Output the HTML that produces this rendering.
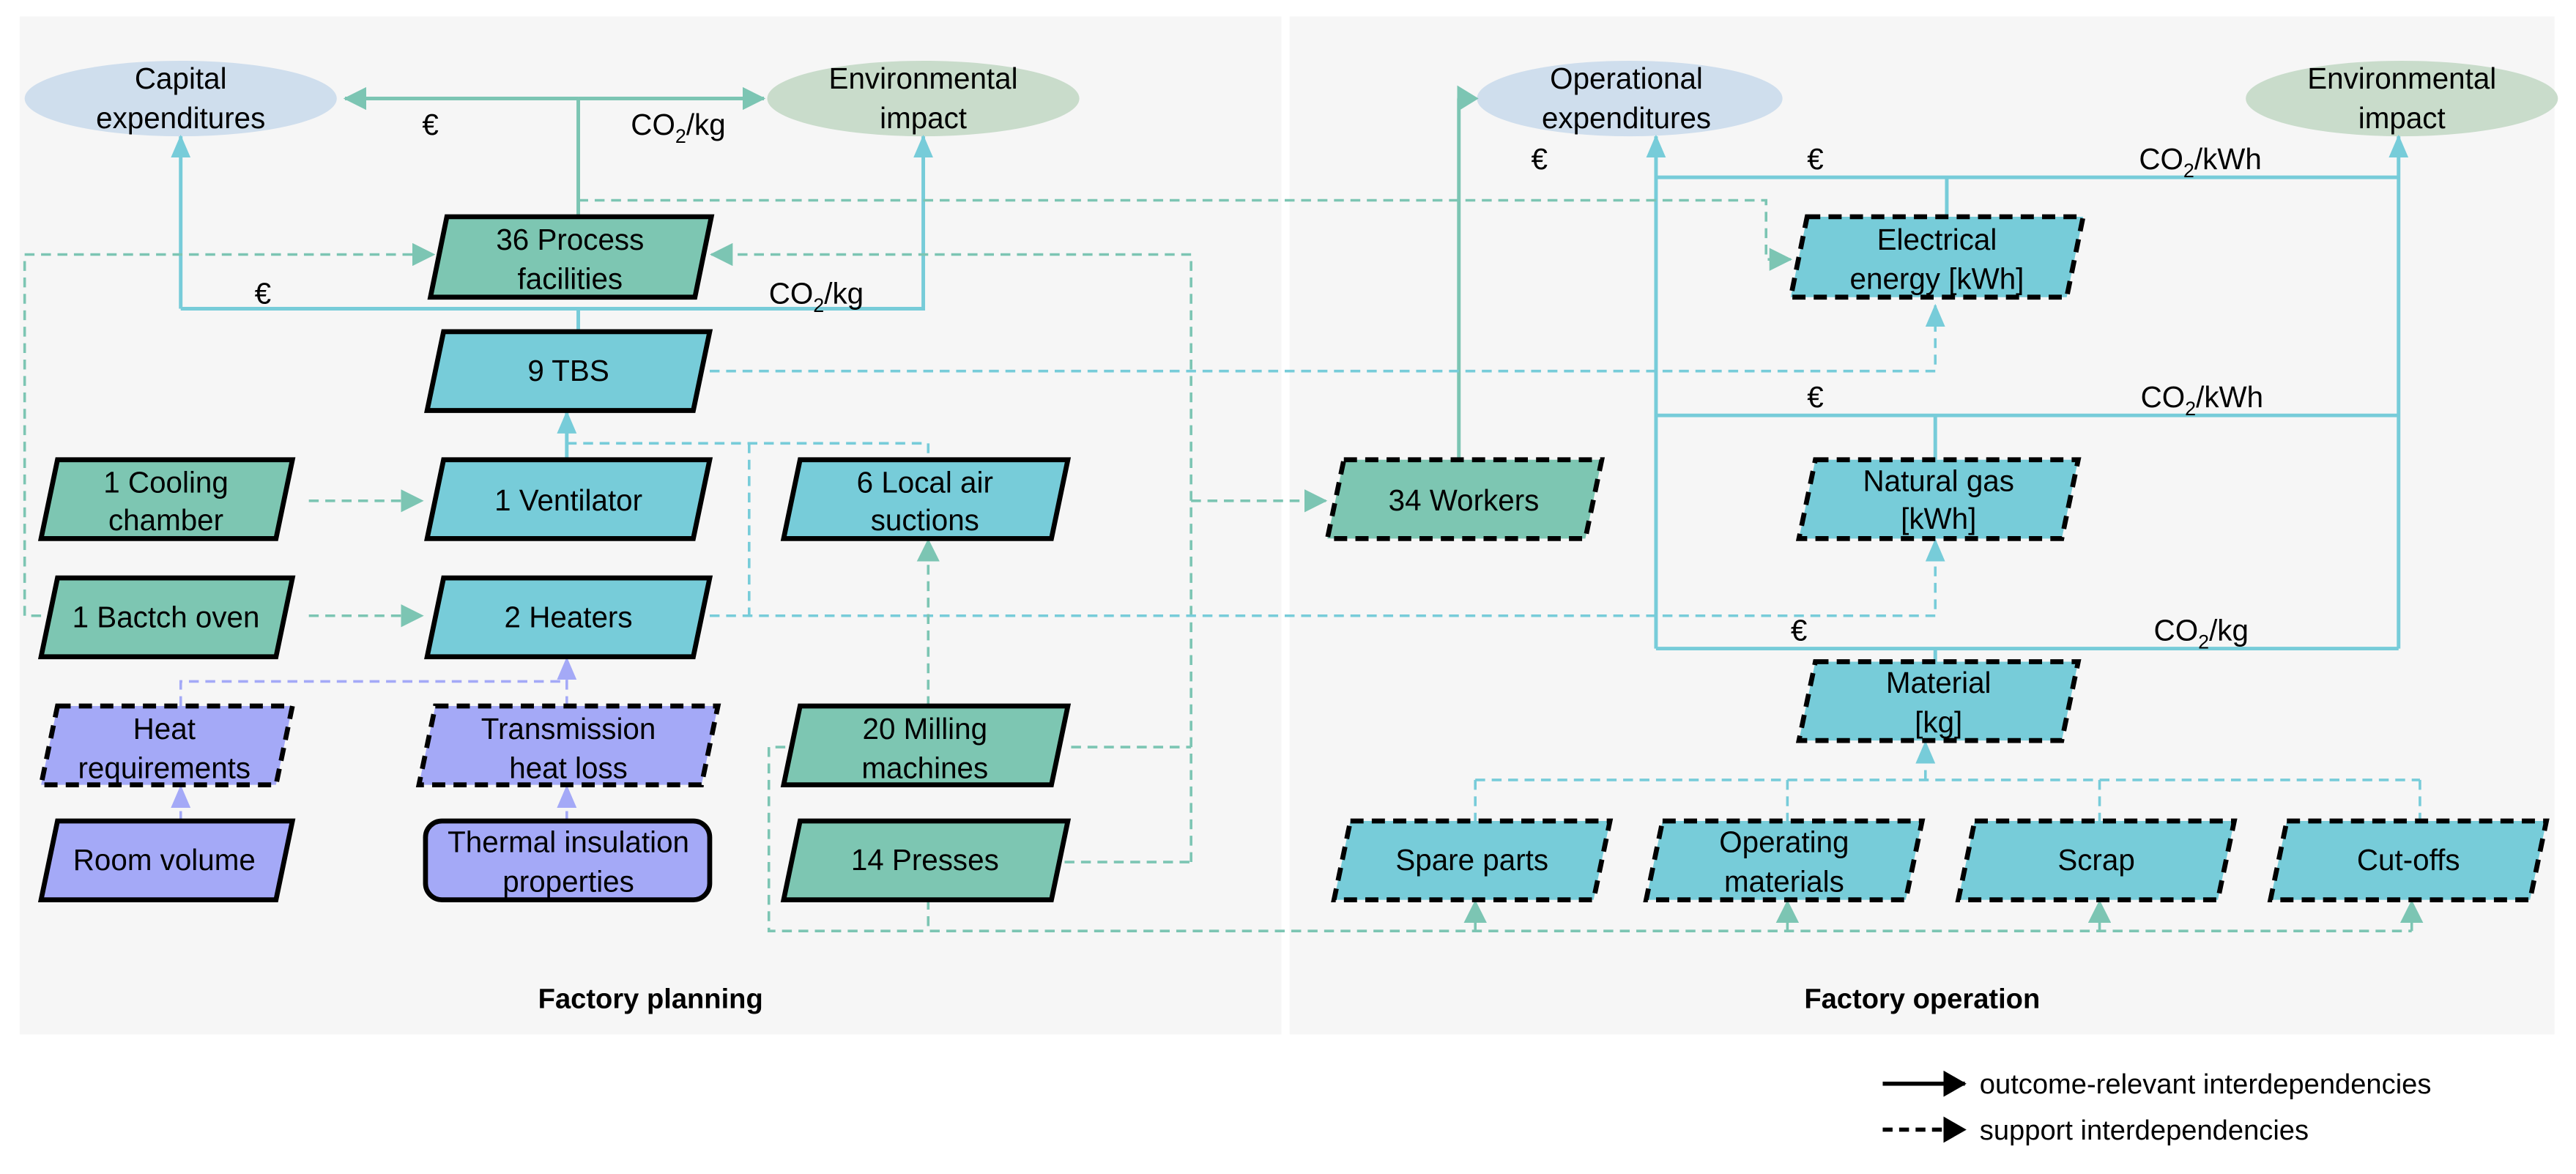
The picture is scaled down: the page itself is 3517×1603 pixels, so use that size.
<!DOCTYPE html>
<html><head><meta charset="utf-8"><style>
html,body{margin:0;padding:0;background:#fff}
svg{display:block}
text{font-family:"Liberation Sans",sans-serif;fill:#000}
</style></head><body>
<svg width="3517" height="1603" viewBox="0 0 1568 715" preserveAspectRatio="none" xmlns="http://www.w3.org/2000/svg">
<defs>
<marker id="gb" markerWidth="14" markerHeight="14" refX="13" refY="7" orient="auto" markerUnits="userSpaceOnUse"><path d="M0,0L14,7L0,14z" fill="#7cc5b3"/></marker>
<marker id="b" markerWidth="14" markerHeight="14" refX="13" refY="7" orient="auto" markerUnits="userSpaceOnUse"><path d="M0,1L14,7L0,13z" fill="#77ccd9"/></marker>
<marker id="p" markerWidth="14" markerHeight="14" refX="13" refY="7" orient="auto" markerUnits="userSpaceOnUse"><path d="M0,1L14,7L0,13z" fill="#a4a9f7"/></marker>
<marker id="k" markerWidth="14" markerHeight="16" refX="13" refY="8" orient="auto" markerUnits="userSpaceOnUse"><path d="M0,0L14,8L0,16z" fill="#000"/></marker>
</defs>
<rect x="12" y="10" width="768" height="620" fill="#f6f6f6"/>
<rect x="785" y="10" width="770" height="620" fill="#f6f6f6"/>

<ellipse cx="110" cy="60" rx="95" ry="23" fill="#cfdeed"/>
<ellipse cx="562" cy="60" rx="95" ry="23" fill="#c9dccb"/>
<ellipse cx="992" cy="60" rx="93" ry="23" fill="#cfdeed"/>
<ellipse cx="1462" cy="60" rx="95" ry="23" fill="#c9dccb"/>
<g font-size="18" text-anchor="middle">
<text x="110" y="54">Capital</text><text x="110" y="78">expenditures</text>
<text x="562" y="54">Environmental</text><text x="562" y="78">impact</text>
<text x="990" y="54">Operational</text><text x="990" y="78">expenditures</text>
<text x="1462" y="54">Environmental</text><text x="1462" y="78">impact</text>
</g>

<g fill="none" stroke-width="2.2">
<path d="M352,60H210" stroke="#7cc5b3" marker-end="url(#gb)"/>
<path d="M352,60H465" stroke="#7cc5b3" marker-end="url(#gb)"/>
<path d="M352,60V132" stroke="#7cc5b3"/>
<path d="M110,188V83" stroke="#77ccd9" marker-end="url(#b)"/>
<path d="M110,188H562V83" stroke="#77ccd9" marker-end="url(#b)"/>
<path d="M352,188V202" stroke="#77ccd9"/>
<path d="M345,280V251" stroke="#77ccd9" marker-end="url(#b)"/>
<path d="M888,280V60H887" stroke="#7cc5b3"/>
<path d="M1008,395V83" stroke="#77ccd9" marker-end="url(#b)"/>
<path d="M1460,395V83" stroke="#77ccd9" marker-end="url(#b)"/>
<path d="M1008,108H1460M1008,253H1460M1008,395H1460M1185,108V132M1178,253V280M1178,395V403" stroke="#77ccd9"/>
</g>
<polygon points="887,52 900,60 887,68" fill="#7cc5b3"/>

<g fill="none" stroke-width="1.6" stroke-dasharray="6,4">
<path d="M188,305H257" stroke="#7cc5b3" marker-end="url(#gb)"/>
<path d="M188,375H257" stroke="#7cc5b3" marker-end="url(#gb)"/>
<path d="M25,375H15V155H264" stroke="#7cc5b3" marker-end="url(#gb)"/>
<path d="M725,525V155H433" stroke="#7cc5b3" marker-end="url(#gb)"/>
<path d="M648,525H725M652,455H725" stroke="#7cc5b3"/>
<path d="M725,305H807" stroke="#7cc5b3" marker-end="url(#gb)"/>
<path d="M352,122H1075V158H1090" stroke="#7cc5b3" marker-end="url(#gb)"/>
<path d="M432,226H1178V186" stroke="#77ccd9" marker-end="url(#b)"/>
<path d="M432,375H1178V329" stroke="#77ccd9" marker-end="url(#b)"/>
<path d="M345,270H565V280M456,270V375" stroke="#77ccd9"/>
<path d="M565,430V329" stroke="#7cc5b3" marker-end="url(#gb)"/>
<path d="M478,455H468V567H1468M565,548V567" stroke="#7cc5b3"/>
<path d="M898,567V549" stroke="#7cc5b3" marker-end="url(#gb)"/>
<path d="M1088,567V549" stroke="#7cc5b3" marker-end="url(#gb)"/>
<path d="M1278,567V549" stroke="#7cc5b3" marker-end="url(#gb)"/>
<path d="M1468,567V549" stroke="#7cc5b3" marker-end="url(#gb)"/>
<path d="M1172,475V452" stroke="#77ccd9" marker-end="url(#b)"/>
<path d="M898,475H1473M898,475V500M1088,475V500M1278,475V500M1473,475V500" stroke="#77ccd9"/>
<path d="M110,430V415H345" stroke="#a4a9f7"/>
<path d="M345,430V401" stroke="#a4a9f7" marker-end="url(#p)"/>
<path d="M110,500V479" stroke="#a4a9f7" marker-end="url(#p)"/>
<path d="M345,500V479" stroke="#a4a9f7" marker-end="url(#p)"/>
</g>

<g stroke="#000" stroke-width="3">
<polygon points="272,132 433,132 423,181 262,181" fill="#7dc6b2"/>
<polygon points="270,202 432,202 422,250 260,250" fill="#77ccd9"/>
<polygon points="35,280 178,280 168,328 25,328" fill="#7dc6b2"/>
<polygon points="270,280 432,280 422,328 260,328" fill="#77ccd9"/>
<polygon points="487,280 650,280 640,328 477,328" fill="#77ccd9"/>
<polygon points="35,352 178,352 168,400 25,400" fill="#7dc6b2"/>
<polygon points="270,352 432,352 422,400 260,400" fill="#77ccd9"/>
<polygon points="487,430 650,430 640,478 477,478" fill="#7dc6b2"/>
<polygon points="35,500 178,500 168,548 25,548" fill="#a4a9f7"/>
<rect x="259" y="500" width="173" height="48" rx="10" fill="#a4a9f7"/>
<polygon points="487,500 650,500 640,548 477,548" fill="#7dc6b2"/>
</g>
<g stroke="#000" stroke-width="3" stroke-dasharray="8,5">
<polygon points="35,430 178,430 168,478 25,478" fill="#a4a9f7"/>
<polygon points="265,430 437,430 427,478 255,478" fill="#a4a9f7"/>
<polygon points="818,280 975,280 965,328 808,328" fill="#7dc6b2"/>
<polygon points="1100,132 1268,132 1258,181 1090,181" fill="#77ccd9"/>
<polygon points="1105,280 1265,280 1255,328 1095,328" fill="#77ccd9"/>
<polygon points="1105,403 1265,403 1255,451 1095,451" fill="#77ccd9"/>
<polygon points="822,500 980,500 970,548 812,548" fill="#77ccd9"/>
<polygon points="1012,500 1170,500 1160,548 1002,548" fill="#77ccd9"/>
<polygon points="1202,500 1360,500 1350,548 1192,548" fill="#77ccd9"/>
<polygon points="1392,500 1550,500 1540,548 1382,548" fill="#77ccd9"/>
</g>

<g font-size="18" text-anchor="middle">
<text x="347" y="152">36 Process</text><text x="347" y="176">facilities</text>
<text x="346" y="232">9 TBS</text>
<text x="101" y="300">1 Cooling</text><text x="101" y="323">chamber</text>
<text x="346" y="311">1 Ventilator</text>
<text x="563" y="300">6 Local air</text><text x="563" y="323">suctions</text>
<text x="101" y="382">1 Bactch oven</text>
<text x="346" y="382">2 Heaters</text>
<text x="100" y="450">Heat</text><text x="100" y="474">requirements</text>
<text x="346" y="450">Transmission</text><text x="346" y="474">heat loss</text>
<text x="563" y="450">20 Milling</text><text x="563" y="474">machines</text>
<text x="100" y="530">Room volume</text>
<text x="346" y="519">Thermal insulation</text><text x="346" y="543">properties</text>
<text x="563" y="530">14 Presses</text>
<text x="891" y="311">34 Workers</text>
<text x="1179" y="152">Electrical</text><text x="1179" y="176">energy [kWh]</text>
<text x="1180" y="299">Natural gas</text><text x="1180" y="322">[kWh]</text>
<text x="1180" y="422">Material</text><text x="1180" y="446">[kg]</text>
<text x="896" y="530">Spare parts</text>
<text x="1086" y="519">Operating</text><text x="1086" y="543">materials</text>
<text x="1276" y="530">Scrap</text>
<text x="1466" y="530">Cut-offs</text>
<text x="262" y="82">€</text>
<text x="160" y="185">€</text>
<text x="937" y="103">€</text>
<text x="1105" y="103">€</text>
<text x="1105" y="248">€</text>
<text x="1095" y="390">€</text>
</g>
<g font-size="18">
<text x="384" y="82">CO<tspan font-size="12" dy="5">2</tspan><tspan dy="-5">/kg</tspan></text>
<text x="468" y="185">CO<tspan font-size="12" dy="5">2</tspan><tspan dy="-5">/kg</tspan></text>
<text x="1302" y="103">CO<tspan font-size="12" dy="5">2</tspan><tspan dy="-5">/kWh</tspan></text>
<text x="1303" y="248">CO<tspan font-size="12" dy="5">2</tspan><tspan dy="-5">/kWh</tspan></text>
<text x="1311" y="390">CO<tspan font-size="12" dy="5">2</tspan><tspan dy="-5">/kg</tspan></text>
</g>
<g font-size="17" font-weight="bold" text-anchor="middle">
<text x="396" y="614">Factory planning</text>
<text x="1170" y="614">Factory operation</text>
</g>
<g stroke="#000" stroke-width="2.5" fill="none">
<path d="M1146,660H1196" marker-end="url(#k)"/>
<path d="M1146,688H1196" stroke-dasharray="6,4" marker-end="url(#k)"/>
</g>
<g font-size="17">
<text x="1205" y="666">outcome-relevant interdependencies</text>
<text x="1205" y="694">support interdependencies</text>
</g>
</svg>
</body></html>
